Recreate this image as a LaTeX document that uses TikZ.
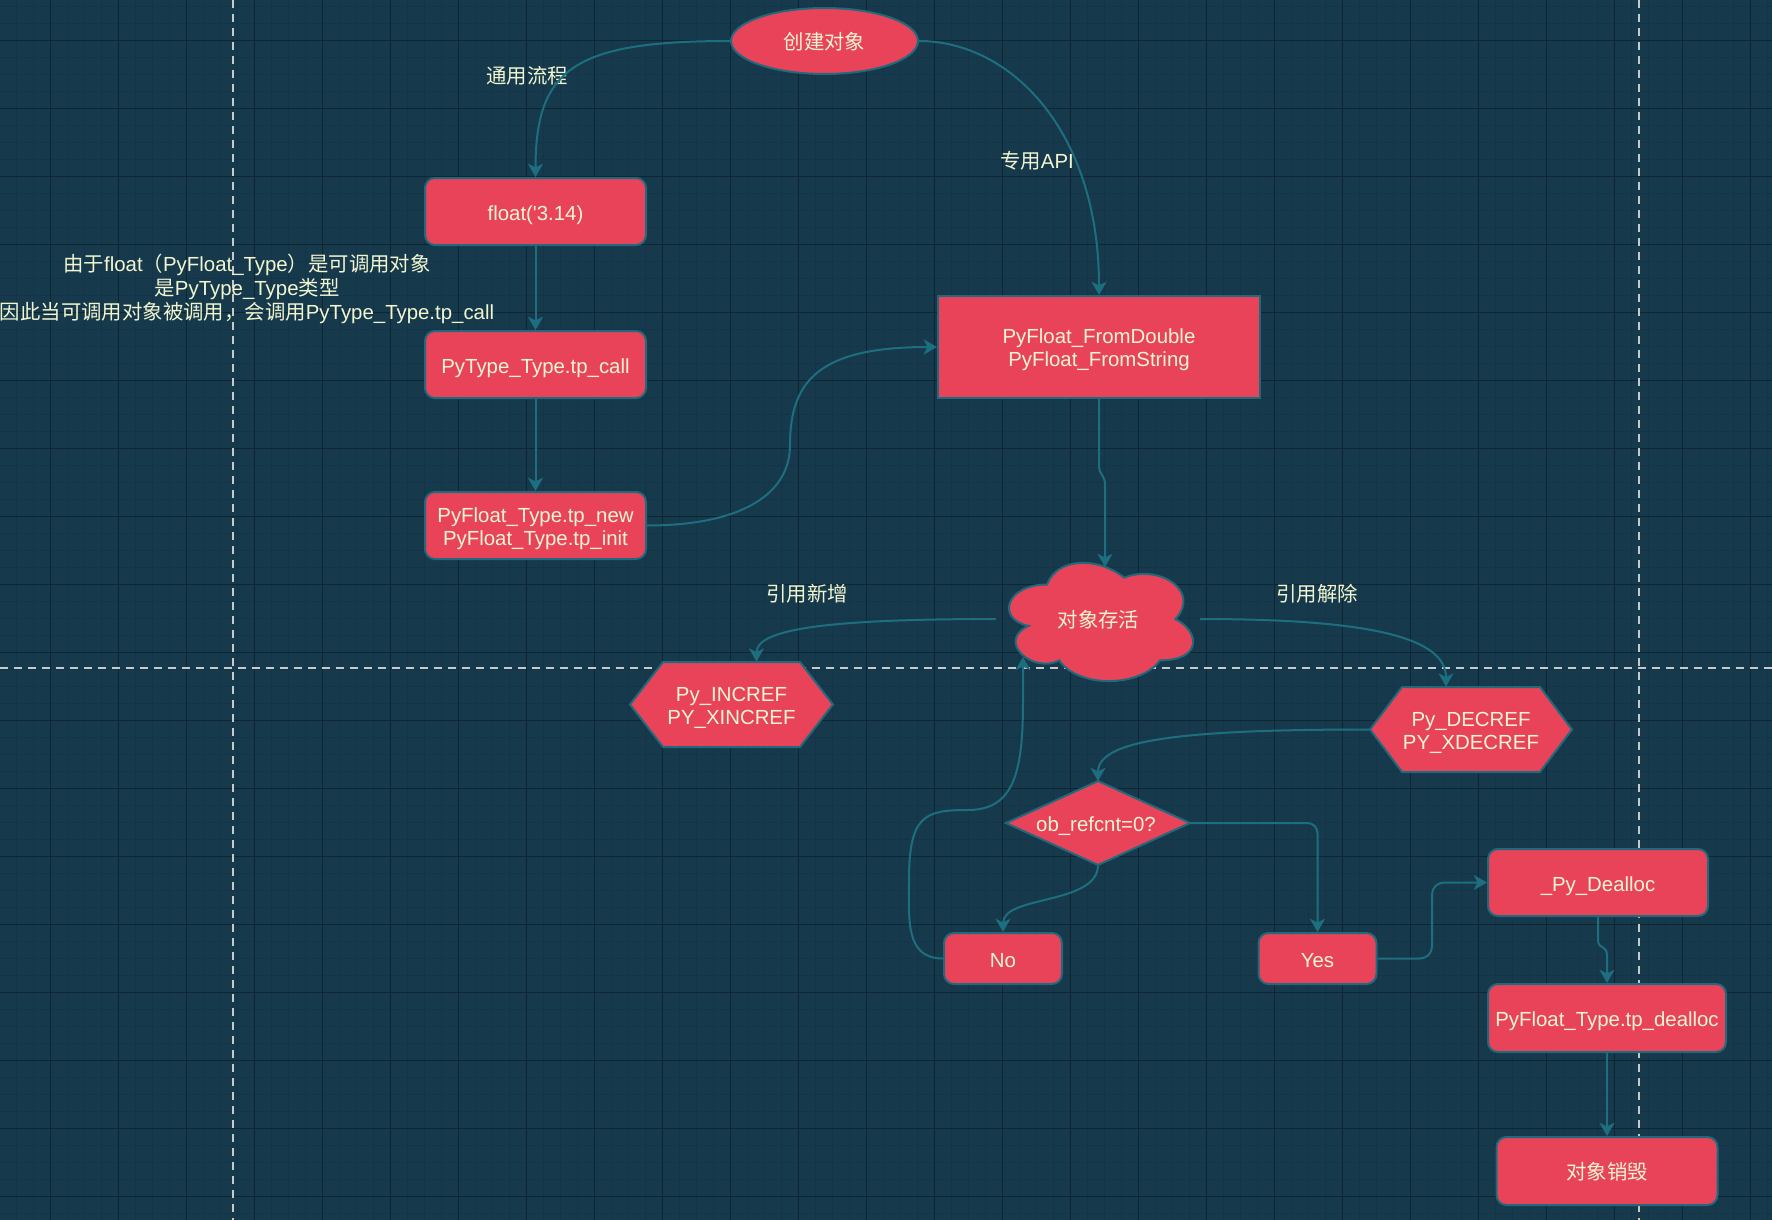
\documentclass[tikz,border=0pt]{standalone}
\usepackage{fontspec}
\setmainfont{Liberation Sans}
\newfontfamily\cjk{Noto Sans CJK SC}
\usetikzlibrary{arrows.meta,calc,shapes.geometric}
\definecolor{bgc}{HTML}{16394C}
\definecolor{minorc}{HTML}{13344A}
\definecolor{majorc}{HTML}{0E2634}
\definecolor{nodefill}{HTML}{E9435A}
\definecolor{nodeline}{HTML}{22697B}
\definecolor{edgec}{HTML}{1D6F80}
\definecolor{txtc}{HTML}{F1F6D0}
\definecolor{dashc}{HTML}{C8CACA}
\newcommand\twol[2]{\vtop{\halign{\hfil##\hfil\cr #1\cr #2\cr}}}
\begin{document}
\begin{tikzpicture}[x=0.5pt,y=-0.5pt,
  shapestyle/.style={fill=nodefill, draw=nodeline, line width=1pt},
  fnt/.style={font=\fontsize{10.2}{11.5}\selectfont},
  oneline/.style={text height=8.6pt, text depth=0pt},
  twoline/.style={text height=8pt, text depth=11.3pt},
  boxnode/.style={shapestyle, rounded corners=5pt, inner sep=0pt, text=txtc, fnt},
  txtnode/.style={inner sep=0pt, text=txtc, fnt},
  lbl/.style={inner sep=0pt, text=txtc, font=\fontsize{10.2}{12}\selectfont\cjk},
  conn/.style={draw=edgec, line width=1pt, -{Stealth[length=6.6pt,width=7.5pt,inset=1.8pt]}},
  sepline/.style={draw=dashc, line width=1pt, dash pattern=on 4pt off 3pt}]
\useasboundingbox (0,0) rectangle (1772,1220);
\fill[bgc] (0,0) rectangle (1772,1220);
% grid
\foreach \x in {16.3,33.3,...,1772} \draw[minorc, line width=0.5pt] (\x,0) -- (\x,1220);
\foreach \y in {6.3,23.3,...,1220} \draw[minorc, line width=0.5pt] (0,\y) -- (1772,\y);
\foreach \x in {50.3,118.3,...,1772} \draw[majorc, line width=0.6pt] (\x,0) -- (\x,1220);
\foreach \y in {40.3,108.3,...,1220} \draw[majorc, line width=0.6pt] (0,\y) -- (1772,\y);
% separators
\draw[sepline] (233,0) -- (233,1220);
\draw[sepline] (1639,0) -- (1639,1220);
\draw[sepline] (0,668) -- (1772,668);

% nodes
\node[shapestyle, ellipse, minimum width=93.5pt, minimum height=33pt, inner sep=0pt, text=txtc, oneline, font=\fontsize{10.2}{12}\selectfont\cjk] (create) at (824.5,41) {创建对象};
\node[boxnode, oneline, minimum width=110.5pt, minimum height=33.5pt] (float) at (535.5,211.5) {float(\textquotesingle 3.14)};
\node[boxnode, oneline, minimum width=110.5pt, minimum height=33.5pt] (call) at (535.5,364.5) {PyType\_Type.tp\_call};
\node[boxnode, twoline, minimum width=110.5pt, minimum height=33.5pt] (new) at (535.5,525.5) {\twol{PyFloat\_Type.tp\_new}{PyFloat\_Type.tp\_init}};
\node[shapestyle, rectangle, twoline, minimum width=161pt, minimum height=51pt, inner sep=0pt, text=txtc, fnt] (api) at (1099,347) {\twol{PyFloat\_FromDouble}{PyFloat\_FromString}};

% cloud
\filldraw[shapestyle] (1047.0,584.5) .. controls (1005.9,584.5) and (995.6,619) .. (1028.5,625.9)
  .. controls (995.6,641.1) and (1032.6,674.2) .. (1059.3,660.4)
  .. controls (1077.8,688) and (1139.5,688) .. (1160.1,660.4)
  .. controls (1201.2,660.4) and (1201.2,632.8) .. (1175.5,619)
  .. controls (1201.2,591.4) and (1160.1,563.8) .. (1124.1,577.6)
  .. controls (1098.4,556.9) and (1057.3,556.9) .. cycle;
\node[txtnode, oneline, minimum width=102.8pt, minimum height=69pt, font=\fontsize{10.2}{12}\selectfont\cjk] (cloud) at (1098.4,619) {对象存活};
\coordinate (cloudN) at (1105,567);
\coordinate (cloudS) at (1023,657);

% hexagons
\filldraw[shapestyle] (630,704.5) -- (663,662) -- (800,662) -- (833,704.5) -- (800,747) -- (663,747) -- cycle;
\node[txtnode, twoline, minimum width=101.5pt, minimum height=42.5pt] (inc) at (731.5,704.5) {\twol{Py\_INCREF}{PY\_XINCREF}};
\filldraw[shapestyle] (1370,729.5) -- (1402,687) -- (1540,687) -- (1572,729.5) -- (1540,772) -- (1402,772) -- cycle;
\node[txtnode, twoline, minimum width=101pt, minimum height=42.5pt] (dec) at (1471,729.5) {\twol{Py\_DECREF}{PY\_XDECREF}};

% diamond
\filldraw[shapestyle] (1006,823) -- (1098,781) -- (1190,823) -- (1098,865) -- cycle;
\node[txtnode, oneline, minimum width=92pt, minimum height=42pt] (dia) at (1096,823) {ob\_refcnt=0?};

\node[boxnode, oneline, minimum width=59pt, minimum height=25.5pt] (no) at (1003,958.5) {No};
\node[boxnode, oneline, minimum width=59pt, minimum height=25.5pt] (yes) at (1317.5,958.5) {Yes};
\node[boxnode, oneline, minimum width=110pt, minimum height=33.5pt] (dealloc) at (1598,882.5) {\_Py\_Dealloc};
\node[boxnode, oneline, minimum width=119pt, minimum height=34pt] (tpd) at (1607,1018) {PyFloat\_Type.tp\_dealloc};
\node[boxnode, oneline, minimum width=110.5pt, minimum height=34pt] (destroy) at (1607,1171) {\cjk 对象销毁};

% labels
\node[lbl] (l1) at (527,76) {通用流程};
\node[lbl] (l2) at (1037,161) {专用{\rmfamily API}};
\node[lbl] (l3) at (807,594) {引用新增};
\node[lbl] (l4) at (1317,594) {引用解除};
\node[txtnode, align=center, font=\fontsize{10.2}{12}\selectfont] (note) at (247,289) {{\cjk 由于}float{\cjk （}PyFloat\_Type{\cjk ）是可调用对象}\\{\cjk 是}PyType\_Type{\cjk 类型}\\{\cjk 因此当可调用对象被调用，会调用}PyType\_Type.tp\_call};

% connectors
\draw[conn] (create.west) .. controls (575,41) and (535.5,68) .. (float.north);
\draw[conn] (create.east) .. controls (1010,41) and (1099,130) .. (api.north);
\draw[conn] (float.south) -- (call.north);
\draw[conn] (call.south) -- (new.north);
\draw[conn] (new.east) .. controls (740,525.5) and (790,495) .. (790,445) .. controls (790,380) and (820,347) .. (api.west);
\draw[conn] (api.south) -- (1099,465) .. controls (1099,476) and (1105,474) .. (1105,485) -- (cloudN);
\draw[conn] (996,619) .. controls (820,619) and (756.5,630) .. ($(inc.north)+(25,0)$);
\draw[conn] (1200,619) .. controls (1380,619) and (1446,640) .. ($(dec.north)+(-25,0)$);
\draw[conn] (dec.west) .. controls (1180,729.5) and (1098,740) .. (1098,781);
\draw[conn] (1098,865) .. controls (1098,905) and (1003,895) .. (no.north);
\draw[conn, rounded corners=5pt] (1190,823) -| (yes.north);
\draw[conn] (no.west) .. controls (905,958.5) and (909,920) .. (909,880) .. controls (909,815) and (925,810) .. (968,810) .. controls (1015,810) and (1023,770) .. (1023,700) -- (cloudS);
\draw[conn, rounded corners=6pt] (yes.east) -- (1432,958.5) |- (dealloc.west);
\draw[conn] (dealloc.south) -- (1598,940) .. controls (1598,950) and (1607,944) .. (1607,956) -- (tpd.north);
\draw[conn] (tpd.south) -- (destroy.north);
\end{tikzpicture}
\end{document}
